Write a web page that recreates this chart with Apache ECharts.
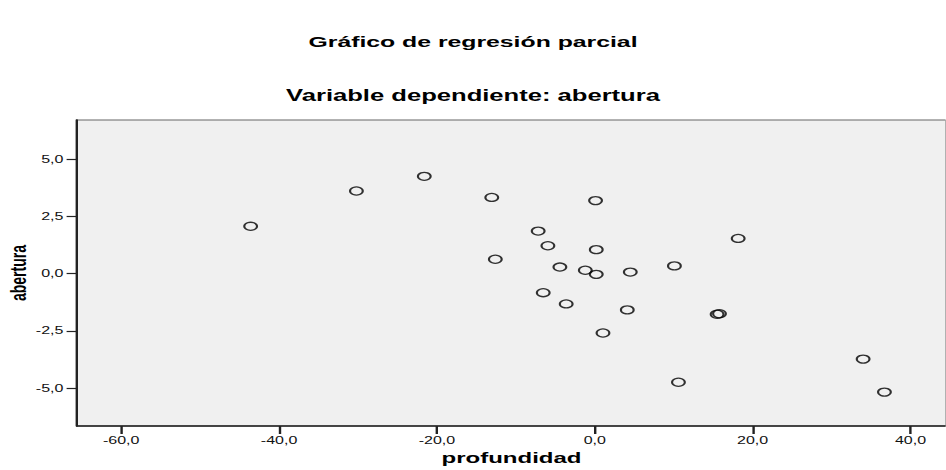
<!DOCTYPE html>
<html>
<head>
<meta charset="utf-8">
<script src="https://cdn.jsdelivr.net/npm/echarts@6/dist/echarts.min.js"></script>
<style>
html,body{margin:0;padding:0;background:#fff;overflow:hidden;}
#wrap{position:absolute;left:0;top:0;transform-origin:0 0;}
</style>
</head>
<body>
<div id="wrap"></div>
<script>
// Data
const profundidad = [-43.6, -30.2, -21.6, -13.05, 0.1, -7.17, -5.94, 0.19, -12.6, -4.42, -1.2, 0.19, 4.5, 10.09, -6.53, -3.62, 4.12, 1.04, 18.17, 15.5, 15.8, 34.0, 10.6, 36.7];
const abertura    = [2.07, 3.61, 4.25, 3.33, 3.19, 1.86, 1.22, 1.05, 0.63, 0.29, 0.15, -0.03, 0.07, 0.34, -0.83, -1.32, -1.58, -2.59, 1.54, -1.77, -1.75, -3.73, -4.74, -5.17];
const xTicks = [-60, -40, -20, 0, 20, 40];
const yTicks = [-5, -2.5, 0, 2.5, 5];
const titleText = 'Gráfico de regresión parcial';
const subtitleText = 'Variable dependiente: abertura';
const xName = 'profundidad';
const yName = 'abertura';

// The reference picture is stretched horizontally; reproduce that stretch.
const K = 1.6;
const W = 946 / K, H = 470;
const wrap = document.getElementById('wrap');
wrap.style.width = W + 'px';
wrap.style.height = H + 'px';
wrap.style.transform = 'scaleX(' + K + ')';

const fmt = v => Number(v).toFixed(1).replace('.', ',');
const FONT = 'Liberation Sans, Arial, sans-serif';

const chart = echarts.init(wrap, null, {renderer: 'svg', width: W, height: H});
chart.setOption({
  animation: false,
  backgroundColor: '#ffffff',
  textStyle: {fontFamily: FONT},
  title: [
    {text: titleText, left: 'center', top: 28,
     textStyle: {fontFamily: FONT, fontSize: 15.5, fontWeight: 'bold', color: '#000'}},
    {text: subtitleText, left: 'center', top: 83,
     textStyle: {fontFamily: FONT, fontSize: 16, fontWeight: 'bold', color: '#000'}}
  ],
  grid: {
    left: 77 / K, right: 0, top: 120, bottom: 44,
    containLabel: false, outerBoundsMode: 'none',
    show: true, backgroundColor: '#f0f0f0', borderColor: '#666', borderWidth: 1
  },
  xAxis: {
    type: 'value', min: -65.6, max: 44.5,
    name: xName, nameLocation: 'middle', nameGap: 24, nameMoveOverlap: false,
    nameTextStyle: {fontFamily: FONT, fontSize: 15, fontWeight: 'bold', color: '#000'},
    axisLine: {show: true, onZero: false, lineStyle: {color: '#222', width: 1.5}},
    axisTick: {show: true, length: 8, customValues: xTicks, lineStyle: {color: '#222', width: 1.5}},
    axisLabel: {customValues: xTicks, formatter: fmt, margin: 10, fontFamily: FONT, fontSize: 10, color: '#111'},
    splitLine: {show: false}
  },
  yAxis: {
    type: 'value', min: -6.65, max: 6.71,
    name: yName, nameLocation: 'middle', nameRotate: 90, nameGap: 29.5, nameMoveOverlap: false,
    nameTextStyle: {fontFamily: FONT, fontSize: 14, fontWeight: 'bold', color: '#000'},
    axisLine: {show: true, onZero: false, lineStyle: {color: '#222', width: 1.5}},
    axisTick: {show: true, length: 6.5, customValues: yTicks, lineStyle: {color: '#222', width: 1.2}},
    axisLabel: {customValues: yTicks, formatter: fmt, margin: 8.5, fontFamily: FONT, fontSize: 10, color: '#111'},
    splitLine: {show: false}
  },
  series: [{
    type: 'scatter',
    data: profundidad.map((x, i) => [x, abertura[i]]),
    symbol: 'circle', symbolSize: 8,
    itemStyle: {color: 'rgba(0,0,0,0)', borderColor: '#000', borderWidth: 1.3},
    emphasis: {disabled: true}
  }]
});
</script>
</body>
</html>
